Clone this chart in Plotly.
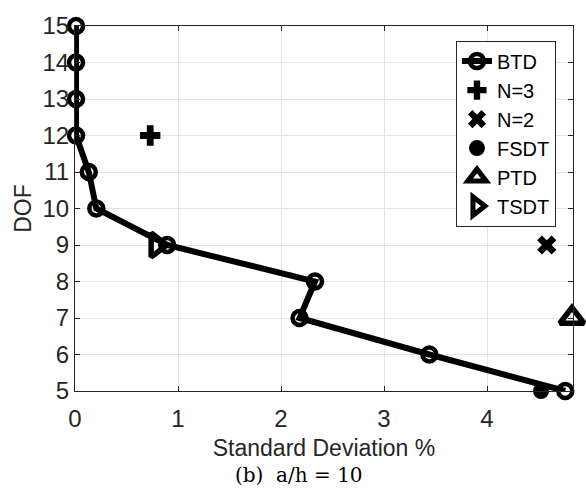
import plotly.graph_objects as go

# Data
btd_dof = [5, 6, 7, 8, 9, 10, 11, 12, 13, 14, 15]
btd_std = [4.76, 3.44, 2.18, 2.33, 0.895, 0.207, 0.134, 0.01, 0.01, 0.01, 0.01]
n3_dof = [12]
n3_std = [0.73]
n2_dof = [9]
n2_std = [4.58]
fsdt_dof = [5]
fsdt_std = [4.525]
ptd_dof = [7]
ptd_std = [4.825]
tsdt_dof = [9]
tsdt_std = [0.79]

x_ticks = [0, 1, 2, 3, 4]
y_ticks = [5, 6, 7, 8, 9, 10, 11, 12, 13, 14, 15]

FONT = "Liberation Sans, Arial, Helvetica, sans-serif"
BLACK = "#000000"

fig = go.Figure()
fig.add_trace(go.Scatter(
    x=btd_std, y=btd_dof, name="BTD", mode="lines+markers",
    line=dict(color=BLACK, width=6),
    marker=dict(symbol="circle-open", size=14, color=BLACK, line=dict(width=4.5, color=BLACK)),
    cliponaxis=False))
fig.add_trace(go.Scatter(
    x=n3_std, y=n3_dof, name="N=3", mode="markers",
    marker=dict(symbol="cross", size=17, color=BLACK, line=dict(width=0)),
    cliponaxis=False))
fig.add_trace(go.Scatter(
    x=n2_std, y=n2_dof, name="N=2", mode="markers",
    marker=dict(symbol="x", size=17, color=BLACK, line=dict(width=0)),
    cliponaxis=False))
fig.add_trace(go.Scatter(
    x=fsdt_std, y=fsdt_dof, name="FSDT", mode="markers",
    marker=dict(symbol="circle", size=16, color=BLACK),
    cliponaxis=False))
fig.add_trace(go.Scatter(
    x=ptd_std, y=ptd_dof, name="PTD", mode="markers",
    marker=dict(symbol="triangle-up-open", size=21, color=BLACK, line=dict(width=5.5, color=BLACK)),
    cliponaxis=False))
fig.add_trace(go.Scatter(
    x=tsdt_std, y=tsdt_dof, name="TSDT", mode="markers",
    marker=dict(symbol="triangle-right-open", size=21, color=BLACK, line=dict(width=5.5, color=BLACK)),
    cliponaxis=False))

axis_common = dict(
    showline=True, linecolor="#262626", linewidth=1.2, mirror="ticks",
    ticks="inside", ticklen=5, tickcolor="#262626", tickwidth=1,
    showgrid=True, gridcolor="#e3e3e3", gridwidth=1, zeroline=False,
    tickfont=dict(family=FONT, size=24, color="#262626"),
)

fig.update_xaxes(
    range=[0, 4.835], tickvals=x_ticks, ticktext=[str(v) for v in x_ticks],
    ticklabelstandoff=6,
    title=dict(text="Standard Deviation %", font=dict(family=FONT, size=23, color="#262626"), standoff=8),
    **axis_common)
fig.update_yaxes(
    range=[5, 15], tickvals=y_ticks, ticktext=[str(v) for v in y_ticks],
    title=dict(text="DOF", font=dict(family=FONT, size=23, color="#262626"), standoff=4),
    **axis_common)

fig.update_layout(
    width=586, height=494,
    margin=dict(l=75, r=12, t=15, b=103),
    paper_bgcolor="white", plot_bgcolor="white",
    showlegend=True,
    legend=dict(
        x=0.765, y=0.96, xanchor="left", yanchor="top",
        bgcolor="white", bordercolor="#262626", borderwidth=1,
        font=dict(family=FONT, size=20, color=BLACK),
        itemsizing="trace", tracegroupgap=0, itemwidth=30,
    ),
    annotations=[dict(
        text="(b)  a/h = 10", xref="paper", yref="paper",
        x=(299 - 75) / (574 - 75), y=-(478 - 391) / (391 - 15),
        xanchor="center", yanchor="middle", showarrow=False,
        font=dict(family="DejaVu Serif, serif", size=20, color=BLACK),
    )],
)

fig.write_html("out.html")
